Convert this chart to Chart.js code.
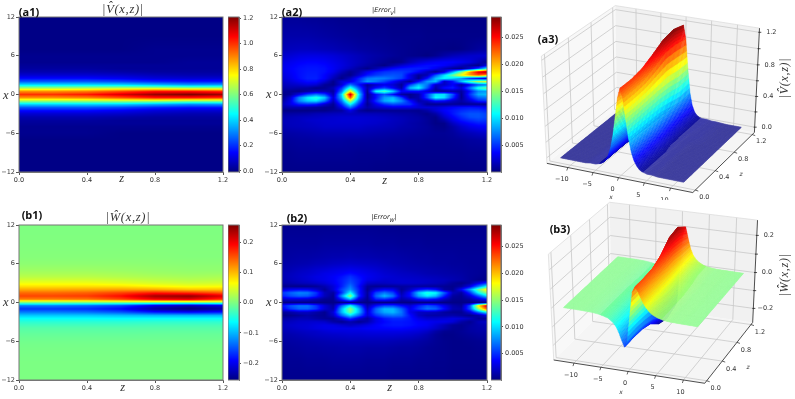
<!DOCTYPE html>
<html>
<head>
<meta charset="utf-8">
<script src="https://cdn.jsdelivr.net/npm/chart.js@4"></script>
<style>
    html, body { margin: 0; padding: 0; background: #fff; }
    #page { position: relative; width: 795px; height: 399px; overflow: hidden; filter: blur(0.35px); }
    canvas { position: absolute; }
    .tag { position: absolute; font: bold 11px "Open Sans", sans-serif; color: #111; transform: translate(-50%, -50%); white-space: nowrap; }
    .math { position: absolute; font: italic 12.5px "Liberation Serif", serif; letter-spacing: 0.7px; color: #333; transform: translate(-50%, -50%); white-space: nowrap; }
    .err { position: absolute; font: italic 6.5px "DejaVu Sans", sans-serif; color: #222; transform: translate(-50%, -50%); white-space: nowrap; }
    .err sub { font-size: 5px; }
    .small { font-size: 6px; font-family: "DejaVu Sans", sans-serif; letter-spacing: 0; }
    .rot { transform: translate(-50%, -50%) rotate(-90deg); font-size: 12px; }
</style>
</head>
<body>
<div id="page"></div>
<script>
// x rows of every table, top of the plot first
const xRows = [12, 9, 7, 6, 5, 4.5, 4, 3.5, 3, 2.5, 2, 1.5, 1, 0.5, 0, -0.5, -1, -1.5, -2, -2.5, -3, -3.5, -4, -4.5, -5, -6, -7, -9, -12];
const zCoarse = [0, 0.2, 0.4, 0.6, 0.8, 1.0, 1.2];
const zFine = [0, 0.05, 0.1, 0.15, 0.2, 0.25, 0.3, 0.35, 0.4, 0.45, 0.5, 0.55, 0.6, 0.65, 0.7, 0.75, 0.8, 0.85, 0.9, 0.95, 1.0, 1.05, 1.1, 1.15, 1.2];

const zTicks = [0, 0.4, 0.8, 1.2];
const xTicks = [-12, -6, 0, 6, 12];
const vBarTicks = [0, 0.2, 0.4, 0.6, 0.8, 1.0, 1.2];
const wBarTicks = [-0.2, -0.1, 0, 0.1, 0.2];
const errBarTicks = [0.005, 0.01, 0.015, 0.02, 0.025];
const surfXTicks = [-10, -5, 0, 5, 10];
const vSurfTicks = [0, 0.2, 0.4, 0.6, 0.8, 1.0, 1.2];
const vSurfLabels = [0, 0.4, 0.8, 1.2];
const wSurfTicks = [-0.2, -0.1, 0, 0.1, 0.2];
const wSurfLabels = [-0.2, 0, 0.2];

const vTable = [
    [0, 0, 0, 0, 0, 0, 0],
    [0, 0, 0, 0, 0, 0, 0],
    [0, 0, 0, 0, 0.01, 0.01, 0.01],
    [0.01, 0.01, 0.01, 0.01, 0.01, 0.01, 0.01],
    [0.01, 0.01, 0.01, 0.01, 0.01, 0.02, 0.02],
    [0.02, 0.02, 0.02, 0.02, 0.02, 0.02, 0.02],
    [0.03, 0.03, 0.03, 0.02, 0.02, 0.02, 0.02],
    [0.05, 0.05, 0.05, 0.04, 0.03, 0.03, 0.03],
    [0.09, 0.09, 0.09, 0.08, 0.06, 0.05, 0.05],
    [0.15, 0.15, 0.15, 0.13, 0.1, 0.09, 0.09],
    [0.25, 0.25, 0.25, 0.23, 0.19, 0.17, 0.17],
    [0.41, 0.41, 0.41, 0.4, 0.36, 0.32, 0.33],
    [0.64, 0.64, 0.65, 0.66, 0.66, 0.63, 0.63],
    [0.88, 0.88, 0.9, 0.96, 1.03, 1.03, 1.0],
    [1.0, 1.0, 1.03, 1.1, 1.18, 1.21, 1.17],
    [0.88, 0.88, 0.9, 0.96, 1.03, 1.03, 1.0],
    [0.64, 0.64, 0.65, 0.66, 0.66, 0.63, 0.63],
    [0.41, 0.41, 0.41, 0.4, 0.36, 0.32, 0.33],
    [0.25, 0.25, 0.25, 0.23, 0.19, 0.17, 0.17],
    [0.15, 0.15, 0.15, 0.13, 0.1, 0.09, 0.09],
    [0.09, 0.09, 0.09, 0.08, 0.06, 0.05, 0.05],
    [0.05, 0.05, 0.05, 0.04, 0.03, 0.03, 0.03],
    [0.03, 0.03, 0.03, 0.02, 0.02, 0.02, 0.02],
    [0.02, 0.02, 0.02, 0.02, 0.02, 0.02, 0.02],
    [0.01, 0.01, 0.01, 0.01, 0.01, 0.01, 0.01],
    [0.01, 0.01, 0.01, 0, 0, 0, 0],
    [0, 0, 0, 0, 0, 0, 0],
    [0, 0, 0, 0, 0, 0, 0],
    [0, 0, 0, 0, 0, 0, 0],
];

const wTable = [
    [0, 0, 0, 0, 0, 0, 0],
    [0.002, 0.002, 0.002, 0.002, 0.002, 0.002, 0.002],
    [0.004, 0.004, 0.004, 0.004, 0.004, 0.003, 0.003],
    [0.008, 0.008, 0.008, 0.008, 0.007, 0.006, 0.006],
    [0.016, 0.016, 0.016, 0.014, 0.012, 0.01, 0.01],
    [0.022, 0.022, 0.022, 0.02, 0.016, 0.014, 0.015],
    [0.03, 0.03, 0.03, 0.026, 0.023, 0.02, 0.022],
    [0.042, 0.042, 0.042, 0.038, 0.032, 0.028, 0.03],
    [0.058, 0.058, 0.058, 0.052, 0.045, 0.04, 0.043],
    [0.08, 0.08, 0.08, 0.078, 0.068, 0.06, 0.062],
    [0.108, 0.108, 0.11, 0.112, 0.108, 0.095, 0.095],
    [0.14, 0.14, 0.145, 0.16, 0.18, 0.17, 0.15],
    [0.16, 0.16, 0.165, 0.19, 0.24, 0.25, 0.21],
    [0.13, 0.13, 0.135, 0.16, 0.2, 0.21, 0.17],
    [0, 0, 0, 0, 0, 0, 0],
    [-0.13, -0.13, -0.14, -0.16, -0.21, -0.23, -0.21],
    [-0.165, -0.165, -0.17, -0.19, -0.24, -0.26, -0.24],
    [-0.13, -0.13, -0.135, -0.15, -0.18, -0.19, -0.18],
    [-0.09, -0.09, -0.09, -0.095, -0.1, -0.1, -0.1],
    [-0.06, -0.06, -0.06, -0.062, -0.06, -0.06, -0.06],
    [-0.042, -0.042, -0.042, -0.042, -0.04, -0.04, -0.04],
    [-0.03, -0.03, -0.03, -0.03, -0.028, -0.028, -0.028],
    [-0.02, -0.02, -0.02, -0.02, -0.02, -0.02, -0.02],
    [-0.016, -0.016, -0.016, -0.016, -0.015, -0.015, -0.015],
    [-0.012, -0.012, -0.012, -0.012, -0.011, -0.011, -0.011],
    [-0.006, -0.006, -0.006, -0.006, -0.006, -0.006, -0.006],
    [-0.003, -0.003, -0.003, -0.003, -0.003, -0.003, -0.003],
    [-0.001, -0.001, -0.001, -0.001, -0.001, -0.001, -0.001],
    [0, 0, 0, 0, 0, 0, 0],
];

// error tables are in units of 0.001
const errVTable = [
    [.8, .8, .8, .7, .7, .6, .6, .5, .5, .5, .4, .4, .4, .3, .3, .3, .3, .3, .3, .3, .3, .3, .3, .3, .3],
    [1.2, 1.3, 1.3, 1.3, 1.2, 1.1, 1, .9, .8, .7, .7, .6, .6, .5, .5, .5, .5, .4, .4, .4, .4, .4, .4, .4, .5],
    [1.6, 1.8, 1.9, 1.9, 1.8, 1.7, 1.6, 1.4, 1.3, 1.1, 1, .9, .8, .7, .6, .5, .4, .4, .3, .3, .2, .3, .6, .9, 1.1],
    [2.2, 2.5, 2.8, 2.9, 2.9, 2.8, 2.6, 2.3, 2, 1.7, 1.4, 1.2, 1, .8, .6, .5, .4, .2, .6, 1.2, 1.7, 2, 2.2, 2.3, 2.4],
    [2.8, 3.2, 3.5, 3.7, 3.7, 3.5, 3.1, 2.7, 2.2, 1.8, 1.4, 1, .7, .3, .5, 1.6, 2.4, 3, 3.4, 3.6, 3.6, 3.3, 2.8, 1.8, .6],
    [3, 3.4, 3.8, 4, 4, 3.8, 3.3, 2.8, 2.2, 1.6, 1.1, .7, .3, 1.3, 2.4, 3.2, 3.7, 4, 4, 3.6, 2.8, 1.8, 1, .4, 3],
    [3, 3.6, 4, 4.2, 4.2, 4, 3.4, 2.6, 1.8, 1, .4, 1.4, 2.8, 3.8, 4.3, 4.5, 4.5, 4.2, 3.2, 1.8, .8, .4, 2.5, 6, 11],
    [2.9, 3.5, 4, 4.3, 4.3, 4, 3.2, 1.8, .6, 1.4, 3.2, 4.3, 5, 5.3, 5.3, 4.8, 3.6, 1.8, .5, 2.5, 8, 14, 21, 26, 28],
    [2.7, 3.3, 4, 4.4, 4.4, 3.7, 2.4, .9, .4, 2.2, 4.2, 5.2, 5.8, 6, 5.7, 3, .8, 1.5, 6, 10, 14, 18, 21, 23, 21],
    [2.4, 3.1, 3.9, 4.5, 4.5, 3.6, 1.7, .4, 2, 4.5, 7, 7.5, 7.3, 6.5, 5.5, 3, .5, 4, 9, 11, 10, 8, 5, 3.5, 2],
    [2, 2.6, 3.3, 3.9, 3.8, 2.4, .5, 2.5, 3, 5, 8, 7, 5.5, 3.8, 2, .6, 4, 8, 9, 2, 4, 9, 13, 16, 17],
    [1.7, 2, 2.3, 2.7, 2.4, .8, .4, 2.5, 7, 4, .7, 2, 3, 2.4, .7, 5.5, 9, 7, 2, 2, 3.5, 1, 3.5, 6, 7],
    [1.2, 1.4, 1.2, 1, .4, .6, 1.5, 5, 12, 6, 1.4, 4, 5.5, 3.5, 1.2, 9, 11, 6, 1.2, 4, 4.5, 2.5, 7, 12, 14],
    [.7, .6, .3, .8, 1.5, 1.5, 1, 7, 18, 8, .7, 11, 13, 9.5, 3.5, 4, 4, 2.5, .6, .6, 1.2, 1, 4, 7.5, 8],
    [.3, .8, 3, 5.5, 7, 5.5, 1.5, 10, 27, 10, .4, 4, 6, 4, 1.2, .5, 1.4, 5.5, 10, 10, 6, .6, 5, 8.5, 9],
    [.4, 2.5, 7.5, 10.5, 12, 9.5, 2.5, 9, 23, 9, .5, 4, 8, 9, 5.5, .8, 1.4, 5.5, 11, 10, 5, .6, 4, 6.5, 7],
    [1, 3, 7.5, 9.5, 10, 7, 1.8, 7, 16, 7, 1, 5, 8.5, 9.5, 7.5, 4, 1.2, 2, 4, 3.5, 2, 1.2, 2.5, 4.5, 5],
    [1.6, 3, 4.5, 5, 4.5, 2.4, .7, 5, 11, 5, .6, 3.2, 5, 6, 5.5, 5, 2.5, .7, .6, .6, .8, .6, .7, .7, .6],
    [1.2, 1.5, 1.5, 1.2, 1, .6, .5, 3, 7, 3, 1.2, 2, 2.6, 3, 3, 3, 2.5, 2.5, 2.5, 3, 3.6, 4, 4.2, 4, 3.5],
    [.3, .3, .3, .3, .4, .4, .8, 1, 3, 1, .4, .6, .6, .6, .6, .6, .5, 1.2, 2.5, 3.6, 4.2, 4.8, 5.2, 5.2, 4.6],
    [1, 1.1, 1.2, 1.3, 1.6, 1.7, 1.8, 1.9, 1.9, 1.8, 1.8, 1.7, 1.6, 1.4, 1.2, 1.1, .8, .4, 1.2, 3, 4.2, 5.4, 6, 6, 5.4],
    [1.4, 1.6, 1.8, 1.9, 2, 2.2, 2.3, 2.4, 2.4, 2.4, 2.3, 2.2, 2, 1.8, 1.6, 1.3, 1.1, .7, .4, 2.2, 3.6, 4.8, 5.8, 6, 5.5],
    [1.6, 1.8, 1.9, 2.2, 2.3, 2.4, 2.4, 2.5, 2.5, 2.5, 2.4, 2.3, 2.2, 1.9, 1.7, 1.4, 1.2, .8, .3, 1.2, 2.9, 4.1, 4.8, 5.3, 5],
    [1.6, 1.8, 1.9, 2, 2.2, 2.3, 2.4, 2.4, 2.4, 2.4, 2.3, 2.2, 2, 1.8, 1.6, 1.3, 1.1, .8, .3, .4, 1.9, 3.1, 3.8, 4.3, 4.3],
    [1.4, 1.7, 1.8, 1.9, 2, 2.2, 2.2, 2.2, 2.2, 2.2, 2, 1.9, 1.8, 1.7, 1.4, 1.3, 1.1, .9, .5, .4, 1.2, 2.2, 3, 3.4, 3.6],
    [1.1, 1.2, 1.3, 1.4, 1.5, 1.6, 1.6, 1.6, 1.6, 1.6, 1.5, 1.4, 1.3, 1.2, 1.1, 1, .9, .8, .7, .7, .9, 1.4, 1.7, 2, 2.2],
    [.8, .9, 1, 1, 1.1, 1.1, 1.1, 1.1, 1, 1, 1, .9, .9, .8, .8, .7, .7, .6, .6, .6, .7, .8, 1, 1.1, 1.2],
    [.6, .6, .7, .7, .7, .7, .7, .7, .7, .6, .6, .6, .6, .5, .5, .5, .5, .5, .5, .5, .5, .5, .6, .6, .7],
    [.4, .4, .4, .4, .4, .4, .4, .4, .4, .4, .4, .3, .3, .3, .3, .3, .3, .3, .3, .3, .3, .3, .3, .3, .4],
];

const errWTable = [
    [.6, .6, .6, .6, .6, .6, .6, .6, .6, .6, .6, .6, .5, .5, .5, .5, .5, .5, .5, .5, .5, .5, .5, .5, .5],
    [.8, .9, .9, .9, .9, 1, 1, 1, 1, 1, 1, .9, .9, .9, .8, .8, .8, .7, .7, .7, .7, .7, .7, .7, .7],
    [1, 1.1, 1.2, 1.2, 1.3, 1.4, 1.5, 1.5, 1.6, 1.5, 1.5, 1.4, 1.3, 1.3, 1.2, 1.1, 1, 1, .9, .9, .9, .8, .8, .8, .8],
    [1.2, 1.3, 1.4, 1.5, 1.7, 1.8, 2, 2.1, 2.2, 2.1, 2, 1.9, 1.7, 1.5, 1.4, 1.3, 1.2, 1.1, 1, 1, .9, .9, .8, .8, .8],
    [1.4, 1.6, 1.9, 2.1, 2.4, 2.6, 2.9, 3.1, 3.3, 3.1, 2.8, 2.5, 2.2, 2, 1.8, 1.6, 1.5, 1.4, 1.3, 1.2, 1.1, 1, .9, .8, .7],
    [1.5, 1.8, 2.1, 2.3, 2.6, 3, 3.2, 3.5, 4, 3.5, 3.1, 2.8, 2.4, 2.2, 2, 1.9, 1.7, 1.5, 1.4, 1.3, 1.2, 1.1, .9, .8, .6],
    [1.5, 1.9, 2.2, 2.5, 2.9, 3.1, 3.5, 4.1, 5, 4, 3.3, 2.9, 2.6, 2.4, 2.2, 2.1, 2, 1.8, 1.7, 1.5, 1.4, 1.2, .9, .7, .5],
    [1.4, 1.8, 2.1, 2.4, 2.8, 3.1, 3.5, 4.4, 5.5, 4.4, 3.1, 2.8, 2.4, 2.4, 2.4, 2.3, 2.2, 2.1, 1.9, 1.8, 1.5, 1.3, .9, .5, .4],
    [1.2, 1.4, 1.7, 1.9, 2.2, 2.6, 3.3, 4.4, 6, 4.4, 2.2, 2, 2, 2.2, 2.3, 2.3, 2.2, 2, 1.8, 1.5, .8, .4, 1, 3, 5],
    [.5, .5, .4, .5, .8, 1.5, 2.6, 4.5, 7, 4, .9, .6, .7, .8, 1, 1.1, 1, .9, .8, .7, .5, 1, 3, 7, 11],
    [2.6, 3.3, 3.6, 3.4, 2.3, .8, 2.5, 5.5, 8, 4.5, .6, 2.6, 3.6, 3.2, .7, 2, 4, 5, 4, 1, .6, 3.5, 8, 14, 19],
    [5.2, 6.5, 7.5, 7.2, 5.2, 1.8, 1, 5, 11, 4.5, 1, 5.5, 7, 5.5, 1.3, 4, 9.5, 12, 11, 6.5, 1.8, 1, 5, 11, 15],
    [4.5, 5.8, 6.5, 6.2, 4.5, 1.8, .6, 8, 15, 5, .8, 6.5, 9, 7, 2, 4, 8.5, 10.5, 9, 4.5, 1, .6, 2.5, 6, 10],
    [2, 2.6, 2.6, 2.3, 1.5, .7, .5, 4.5, 9, 2.6, .6, 4.5, 5, 3.8, 1.3, 2, 4, 4.5, 3.8, 2, .6, .5, 1, 2.5, 4],
    [.3, .3, .3, .3, .3, .3, .3, .5, .8, .5, .3, .3, .3, .3, .3, .3, .3, .3, .3, .3, .3, .3, .3, .3, .5],
    [4, 6, 7, 7, 5.2, 2.5, 1, 6.5, 11, 6.5, 1.3, 4, 5.5, 5.5, 4, 2.6, 4.5, 6, 5.2, 3.2, 1.3, .8, 6, 19, 27],
    [3.2, 5.2, 6.5, 6.5, 5.2, 2.5, 1.3, 9, 15, 9, 2, 6.5, 9, 9, 6.5, 3.2, 5.2, 7, 6.5, 4, 1.5, 1.3, 6, 15, 23],
    [.9, 1.3, 2, 2, 1.3, .6, 2.6, 9, 14, 9, 2.6, 6.5, 8.5, 9, 7, 3.2, 2, 2, 1.8, 1, .6, .6, 2.6, 7, 11],
    [.3, .5, .8, 1.2, .8, .6, 2, 6.5, 10, 6.5, 2.6, 5, 6.5, 7, 6.5, 4, 2, 1.3, 1.2, 1.2, 1.3, .9, .5, 1.3, 3],
    [1.2, 1.4, 1.7, 1.6, 1.2, .8, .6, 2.4, 5, 2.4, 1, 3, 4.2, 4.8, 4.8, 4.2, 3, 2.4, 2.4, 2.6, 2.9, 2.6, 1.9, .8, .6],
    [1.7, 1.9, 2.2, 2.3, 2.4, 2.2, 1.2, .6, 1.4, .6, 1.4, 3, 3.8, 4.3, 4.3, 4.1, 3.6, 3.4, 3.1, 3.1, 2.6, 1.2, .6, 1.7, 2.2],
    [1.8, 2.2, 2.4, 2.5, 2.8, 3, 2.9, 2.4, 1.9, 2.4, 2.9, 3.6, 4.1, 4.3, 4.3, 4.1, 3.7, 3.4, 2.6, 1.7, .8, .6, 1, 1.4, 1.6],
    [1.7, 2, 2.3, 2.5, 2.8, 3, 3.1, 3.1, 3.1, 3.2, 3.5, 3.6, 3.7, 3.8, 3.8, 3.6, 3.2, 2.9, 2.2, 1.4, .7, .6, 1.1, 1.3, 1.4],
    [1.5, 1.7, 1.9, 2.1, 2.2, 2.5, 2.7, 2.7, 2.8, 2.8, 2.9, 3, 3, 3, 3, 2.8, 2.6, 2.1, 1.2, .6, .5, .7, 1, 1.2, 1.2],
    [1.3, 1.4, 1.6, 1.8, 2, 2.1, 2.2, 2.3, 2.4, 2.4, 2.5, 2.5, 2.5, 2.5, 2.4, 2.3, 2, 1.5, .8, .4, .4, .6, .8, 1, 1],
    [1, 1.1, 1.2, 1.3, 1.4, 1.5, 1.6, 1.6, 1.7, 1.7, 1.7, 1.7, 1.7, 1.6, 1.5, 1.4, 1.2, 1, .7, .5, .4, .4, .5, .6, .7],
    [.8, .9, 1, 1.1, 1.1, 1.2, 1.2, 1.3, 1.3, 1.3, 1.2, 1.2, 1.2, 1.1, 1, 1, .9, .7, .6, .5, .4, .4, .4, .5, .5],
    [.6, .7, .7, .8, .8, .8, .9, .9, .9, .9, .8, .8, .8, .7, .7, .7, .6, .6, .5, .5, .4, .4, .4, .4, .4],
    [.4, .5, .5, .5, .5, .5, .5, .5, .5, .5, .5, .5, .5, .4, .4, .4, .4, .4, .4, .4, .3, .3, .3, .3, .3],
];

const tickFont = {family: '"DejaVu Sans", sans-serif', size: 6.5};
const tickColor = '#333';
const page = document.getElementById('page');

function clip01(v) {
    return Math.max(0, Math.min(1, v));
}

function jet(t) {
    return [
        Math.round(255 * clip01(1.5 - Math.abs(4 * t - 3))),
        Math.round(255 * clip01(1.5 - Math.abs(4 * t - 2))),
        Math.round(255 * clip01(1.5 - Math.abs(4 * t - 1))),
    ];
}

function findSpan(list, v) {
    let i = 0;
    while (i < list.length - 2 && v > list[i + 1]) {
        i++;
    }
    return i;
}

// pixel smoothing between the table cells, like imshow with bilinear
function lookup(table, zCols, x, z) {
    let r = 0;
    while (r < xRows.length - 2 && x < xRows[r + 1]) {
        r++;
    }
    const c = findSpan(zCols, z);
    const fr = clip01((xRows[r] - x) / (xRows[r] - xRows[r + 1]));
    const fc = clip01((z - zCols[c]) / (zCols[c + 1] - zCols[c]));
    const top = table[r][c] * (1 - fc) + table[r][c + 1] * fc;
    const low = table[r + 1][c] * (1 - fc) + table[r + 1][c + 1] * fc;
    return top * (1 - fr) + low * fr;
}

const heatPlugin = {
    id: 'heat',
    beforeDatasetsDraw(chart, args, opts) {
        const area = chart.chartArea;
        const w = Math.round(area.right - area.left);
        const h = Math.round(area.bottom - area.top);
        const off = document.createElement('canvas');
        off.width = w;
        off.height = h;
        const octx = off.getContext('2d');
        const img = octx.createImageData(w, h);
        for (let j = 0; j < h; j++) {
            const x = chart.scales.y.getValueForPixel(area.top + j + 0.5);
            for (let i = 0; i < w; i++) {
                const z = chart.scales.x.getValueForPixel(area.left + i + 0.5);
                const v = lookup(opts.table, opts.cols, x, z) * opts.unit;
                const rgb = jet((v - opts.vmin) / (opts.vmax - opts.vmin));
                const k = (j * w + i) * 4;
                img.data[k] = rgb[0];
                img.data[k + 1] = rgb[1];
                img.data[k + 2] = rgb[2];
                img.data[k + 3] = 255;
            }
        }
        octx.putImageData(img, 0, 0);
        chart.ctx.drawImage(off, area.left, area.top);
        chart.ctx.strokeStyle = '#777';
        chart.ctx.lineWidth = 1;
        chart.ctx.strokeRect(area.left, area.top, w, h);
    },
};

const barPlugin = {
    id: 'colorbar',
    beforeDatasetsDraw(chart, args, opts) {
        const area = chart.chartArea;
        const ctx = chart.ctx;
        for (let y = Math.floor(area.top); y < area.bottom; y++) {
            const v = chart.scales.y.getValueForPixel(y + 0.5);
            const rgb = jet((v - opts.vmin) / (opts.vmax - opts.vmin));
            ctx.fillStyle = `rgb(${rgb.join(',')})`;
            ctx.fillRect(area.left, y, area.right - area.left, 1);
        }
        ctx.strokeStyle = '#777';
        ctx.lineWidth = 1;
        ctx.strokeRect(area.left, area.top, area.right - area.left, area.bottom - area.top);
    },
};

function addCanvas(left, top, width, height) {
    const canvas = document.createElement('canvas');
    canvas.width = width;
    canvas.height = height;
    canvas.style.left = `${left}px`;
    canvas.style.top = `${top}px`;
    canvas.style.width = `${width}px`;
    canvas.style.height = `${height}px`;
    page.appendChild(canvas);
    return canvas;
}

function addText(cls, left, top, html) {
    const el = document.createElement('div');
    el.className = cls;
    el.style.left = `${left}px`;
    el.style.top = `${top}px`;
    el.innerHTML = html;
    page.appendChild(el);
}

function fixedTicks(values) {
    return (scale) => {
        scale.ticks = values.map((value) => ({value}));
    };
}

function heatChart(left, top, plotWidth, table, cols, unit, vmin, vmax) {
    const canvas = addCanvas(left, top, 19 + plotWidth + 10, 190);
    return new Chart(canvas, {
        type: 'scatter',
        data: {datasets: [{data: []}]},
        plugins: [heatPlugin],
        options: {
            responsive: false,
            animation: false,
            layout: {padding: {top: 17, right: 10}},
            plugins: {
                legend: {display: false},
                tooltip: {enabled: false},
                heat: {table, cols, unit, vmin, vmax},
            },
            scales: {
                x: {
                    min: 0,
                    max: 1.2,
                    afterBuildTicks: fixedTicks(zTicks),
                    afterFit(scale) {
                        scale.height = 18;
                    },
                    grid: {drawOnChartArea: false, tickLength: 3, color: '#555'},
                    border: {color: '#777'},
                    ticks: {
                        autoSkip: false,
                        maxRotation: 0,
                        padding: 1,
                        font: tickFont,
                        color: tickColor,
                        callback: (v) => v.toFixed(1),
                    },
                },
                y: {
                    min: -12,
                    max: 12,
                    afterBuildTicks: fixedTicks(xTicks),
                    afterFit(scale) {
                        scale.width = 19;
                    },
                    grid: {drawOnChartArea: false, tickLength: 3, color: '#555'},
                    border: {color: '#777'},
                    ticks: {
                        autoSkip: false,
                        padding: 1,
                        font: tickFont,
                        color: tickColor,
                        callback: (v) => String(v).replace('-', '\u2212'),
                    },
                },
            },
        },
    });
}

function barChart(left, top, barWidth, ticks, digits, vmin, vmax) {
    const canvas = addCanvas(left, top, barWidth + 34, 190);
    return new Chart(canvas, {
        type: 'scatter',
        data: {datasets: [{data: []}]},
        plugins: [barPlugin],
        options: {
            responsive: false,
            animation: false,
            layout: {padding: {top: 17, bottom: 18}},
            plugins: {
                legend: {display: false},
                tooltip: {enabled: false},
                colorbar: {vmin, vmax},
            },
            scales: {
                x: {display: false, min: 0, max: 1},
                y: {
                    position: 'right',
                    min: vmin,
                    max: vmax,
                    afterBuildTicks: fixedTicks(ticks),
                    afterFit(scale) {
                        scale.width = 34;
                    },
                    grid: {drawOnChartArea: false, tickLength: 2, color: '#555'},
                    border: {color: '#777'},
                    ticks: {
                        autoSkip: false,
                        padding: 2,
                        font: tickFont,
                        color: tickColor,
                        callback: (v) => v.toFixed(digits).replace('-', '\u2212'),
                    },
                },
            },
        },
    });
}

// view transform of the 3D box, box coordinates run 0..1 on each side
function makeProjector(elev, azim) {
    const el = elev * Math.PI / 180;
    const az = azim * Math.PI / 180;
    const n = [Math.cos(el) * Math.cos(az), Math.cos(el) * Math.sin(az), Math.sin(el)];
    const u = [-Math.sin(az), Math.cos(az), 0];
    const v = [-Math.sin(el) * Math.cos(az), -Math.sin(el) * Math.sin(az), Math.cos(el)];
    return (a, b, c) => {
        const r = [a - 0.5, b - 0.5, c - 0.5];
        const d = 10 - (n[0] * r[0] + n[1] * r[1] + n[2] * r[2]);
        return [
            (u[0] * r[0] + u[1] * r[1]) * 10 / d,
            (v[0] * r[0] + v[1] * r[1] + v[2] * r[2]) * 10 / d,
        ];
    };
}

const surfacePlugin = {
    id: 'surface',
    beforeDatasetsDraw(chart, args, opts) {
        const ctx = chart.ctx;
        const view = makeProjector(opts.elev, opts.azim);
        const norm = (x, z, w) => [
            (x - opts.xLim[0]) / (opts.xLim[1] - opts.xLim[0]),
            (z - opts.zLim[0]) / (opts.zLim[1] - opts.zLim[0]),
            (w - opts.wLim[0]) / (opts.wLim[1] - opts.wLim[0]),
        ];
        const toPx = (x, z, w) => {
            const n = norm(x, z, w);
            const p = view(n[0], n[1], n[2]);
            return [chart.scales.x.getPixelForValue(p[0]), chart.scales.y.getPixelForValue(p[1])];
        };
        const fillPoly = (pts, color) => {
            ctx.beginPath();
            pts.forEach((p, i) => (i ? ctx.lineTo(p[0], p[1]) : ctx.moveTo(p[0], p[1])));
            ctx.closePath();
            ctx.fillStyle = color;
            ctx.fill();
        };
        const line = (a, b, color, width) => {
            ctx.beginPath();
            ctx.moveTo(a[0], a[1]);
            ctx.lineTo(b[0], b[1]);
            ctx.strokeStyle = color;
            ctx.lineWidth = width;
            ctx.stroke();
        };
        const [x0, x1] = opts.xLim;
        const [z0, z1] = opts.zLim;
        const [w0, w1] = opts.wLim;

        // panes
        fillPoly([toPx(x0, z0, w0), toPx(x1, z0, w0), toPx(x1, z1, w0), toPx(x0, z1, w0)], '#f5f5f5');
        fillPoly([toPx(x0, z0, w0), toPx(x0, z1, w0), toPx(x0, z1, w1), toPx(x0, z0, w1)], '#f8f8f8');
        fillPoly([toPx(x0, z1, w0), toPx(x1, z1, w0), toPx(x1, z1, w1), toPx(x0, z1, w1)], '#f1f1f1');

        // grid on the panes
        const gridColor = '#c8c8c8';
        surfXTicks.forEach((x) => {
            line(toPx(x, z0, w0), toPx(x, z1, w0), gridColor, 0.8);
            line(toPx(x, z1, w0), toPx(x, z1, w1), gridColor, 0.8);
        });
        zTicks.forEach((z) => {
            line(toPx(x0, z, w0), toPx(x1, z, w0), gridColor, 0.8);
            line(toPx(x0, z, w0), toPx(x0, z, w1), gridColor, 0.8);
        });
        opts.wTicks.forEach((w) => {
            line(toPx(x0, z0, w), toPx(x0, z1, w), gridColor, 0.8);
            line(toPx(x0, z1, w), toPx(x1, z1, w), gridColor, 0.8);
        });
        line(toPx(x0, z0, w1), toPx(x0, z1, w1), '#ddd', 0.8);
        line(toPx(x0, z1, w1), toPx(x1, z1, w1), '#ddd', 0.8);
        line(toPx(x0, z0, w0), toPx(x0, z0, w1), '#ddd', 0.8);

        // surface, far quads first
        const span = opts.vmax - opts.vmin;
        const stepX = 0.1;
        const stepZ = 0.025;
        const rowsZ = Math.round(1.2 / stepZ);
        const colsX = Math.round(24 / stepX);
        for (let iz = rowsZ - 1; iz >= 0; iz--) {
            const z = iz * stepZ;
            for (let ix = 0; ix < colsX; ix++) {
                const x = -12 + ix * stepX;
                const a = lookup(opts.table, zCoarse, x, z);
                const b = lookup(opts.table, zCoarse, x + stepX, z);
                const c = lookup(opts.table, zCoarse, x + stepX, z + stepZ);
                const d = lookup(opts.table, zCoarse, x, z + stepZ);
                const mean = (a + b + c + d) / 4;
                const flat = Math.abs(mean) < 0.02 * span;
                const veil = flat ? 0.25 : 0.05;
                const rgb = jet((mean - opts.vmin) / span).map((ch) => Math.round(ch * (1 - veil) + 242 * veil));
                const color = `rgb(${rgb.join(',')})`;
                fillPoly([toPx(x, z, a), toPx(x + stepX, z, b), toPx(x + stepX, z + stepZ, c), toPx(x, z + stepZ, d)], color);
                ctx.strokeStyle = color;
                ctx.lineWidth = 0.4;
                ctx.stroke();
            }
        }

        // axis lines with ticks and labels
        const axisColor = '#222';
        line(toPx(x0, z0, w0), toPx(x1, z0, w0), axisColor, 0.8);
        line(toPx(x1, z0, w0), toPx(x1, z1, w0), axisColor, 0.8);
        line(toPx(x1, z1, w0), toPx(x1, z1, w1), axisColor, 0.8);
        ctx.font = '6.5px "DejaVu Sans", sans-serif';
        ctx.fillStyle = tickColor;
        ctx.textAlign = 'center';
        ctx.textBaseline = 'middle';
        surfXTicks.forEach((x) => {
            const p = toPx(x, z0, w0);
            line(p, [p[0] - 1, p[1] + 3], axisColor, 0.7);
            ctx.fillStyle = tickColor;
            ctx.fillText(String(x).replace('-', '\u2212'), p[0] + opts.xLabelShift[0], p[1] + opts.xLabelShift[1]);
        });
        zTicks.forEach((z) => {
            const p = toPx(x1, z, w0);
            line(p, [p[0] + 3, p[1] + 1], axisColor, 0.7);
            ctx.fillStyle = tickColor;
            ctx.fillText(z.toFixed(1), p[0] + opts.zLabelShift[0], p[1] + opts.zLabelShift[1]);
        });
        opts.wTicks.forEach((w) => {
            const p = toPx(x1, z1, w);
            line([p[0] - 1, p[1]], [p[0] + 2, p[1]], axisColor, 0.8);
        });
        opts.wLabels.forEach((w) => {
            const p = toPx(x1, z1, w);
            ctx.fillStyle = tickColor;
            ctx.fillText(w.toFixed(1).replace('-', '\u2212'), p[0] + 12, p[1]);
        });
    },
};

function surfaceChart(top, height, view, settings) {
    const canvas = addCanvas(530, top, 265, height);
    return new Chart(canvas, {
        type: 'scatter',
        data: {datasets: [{data: []}]},
        plugins: [surfacePlugin],
        options: {
            responsive: false,
            animation: false,
            layout: {padding: 0},
            plugins: {
                legend: {display: false},
                tooltip: {enabled: false},
                surface: settings,
            },
            scales: {
                x: {display: false, min: view[0], max: view[1]},
                y: {display: false, min: view[2], max: view[3]},
            },
        },
    });
}

function init() {
    heatChart(0, 0, 204, vTable, zCoarse, 1, -0.008, 1.21);
    barChart(228, 0, 11, vBarTicks, 1, -0.008, 1.21);
    heatChart(263, 0, 205, errVTable, zFine, 0.001, 0.0001, 0.02875);
    barChart(491, 0, 10, errBarTicks, 3, 0.0001, 0.02875);
    heatChart(0, 208, 204, wTable, zCoarse, 1, -0.256, 0.258);
    barChart(228, 208, 11, wBarTicks, 1, -0.256, 0.258);
    heatChart(263, 208, 205, errWTable, zFine, 0.001, 0.0001, 0.029);
    barChart(491, 208, 10, errBarTicks, 3, 0.0001, 0.029);

    surfaceChart(0, 200, [-0.7675, 0.889, -0.852, 0.787], {
        elev: 30,
        azim: -65,
        table: vTable,
        vmin: 0,
        vmax: 1.2,
        xLim: [-14.2, 14.2],
        zLim: [-0.05, 1.25],
        wLim: [-0.07, 1.25],
        wTicks: vSurfTicks,
        wLabels: vSurfLabels,
        xLabelShift: [-6, 12],
        zLabelShift: [9, 7],
    });
    surfaceChart(200, 199, [-0.7906, 0.876, -0.908, 0.75], {
        elev: 30,
        azim: -70,
        table: wTable,
        vmin: -0.256,
        vmax: 0.258,
        xLim: [-13.8, 13.8],
        zLim: [-0.05, 1.25],
        wLim: [-0.28, 0.28],
        wTicks: wSurfTicks,
        wLabels: wSurfLabels,
        xLabelShift: [-3, 12],
        zLabelShift: [9, 8],
    });

    addText('tag', 29, 11, '(a1)');
    addText('tag', 292, 11, '(a2)');
    addText('tag', 548, 38, '(a3)');
    addText('tag', 32, 214, '(b1)');
    addText('tag', 297, 217, '(b2)');
    addText('tag', 560, 228, '(b3)');

    addText('math', 123, 9, '|V\u0302(x,z)|');
    addText('math', 128, 217, '|W\u0302(x,z)|');
    addText('err', 384, 11, '|Error<sub>V</sub>|');
    addText('err', 384, 218, '|Error<sub>W</sub>|');

    addText('math', 122, 178, 'z');
    addText('math', 385, 180, 'z');
    addText('math', 123, 387, 'z');
    addText('math', 390, 387, 'z');
    addText('math', 6, 95, 'x');
    addText('math', 269, 94, 'x');
    addText('math', 6, 302, 'x');
    addText('math', 269, 302, 'x');

    addText('math small', 611, 196, 'x');
    addText('math small', 741, 173, 'z');
    addText('math small', 621, 391, 'x');
    addText('math small', 748, 366, 'z');
    addText('math rot', 784, 78, '|V\u0302(x,z)|');
    addText('math rot', 784, 275, '|W\u0302(x,z)|');
}

init();
</script>
</body>
</html>
